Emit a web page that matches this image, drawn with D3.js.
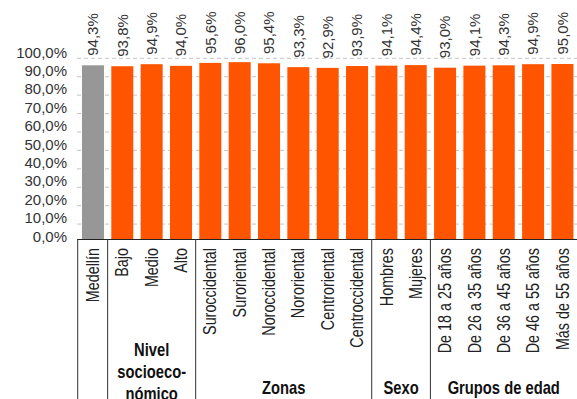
<!DOCTYPE html>
<html>
<head>
<meta charset="utf-8">
<script src="https://cdn.jsdelivr.net/npm/d3@7"></script>
<style>
  html, body { margin: 0; padding: 0; background: #fff; }
  svg { display: block; }
  .num { font-family: "Liberation Sans", Arial, sans-serif; fill: #333; font-size: 15px; }
  .cat { font-family: "Liberation Sans", Arial, sans-serif; fill: #222; font-size: 17.5px; }
  .grp { font-family: "Liberation Sans", Arial, sans-serif; fill: #111; font-size: 18px; font-weight: bold; }
</style>
</head>
<body>
<svg id="chart" width="577" height="399"></svg>
<script>
// Share of respondents, by segment
const categories = ["Medellín", "Bajo", "Medio", "Alto",
  "Suroccidental", "Suroriental", "Noroccidental", "Nororiental", "Centroriental", "Centroccidental",
  "Hombres", "Mujeres",
  "De 18 a 25 años", "De 26 a 35 años", "De 36 a 45 años", "De 46 a 55 años", "Más de 55 años"];
const values = [94.3, 93.8, 94.9, 94.0,
  95.6, 96.0, 95.4, 93.3, 92.9, 93.9,
  94.1, 94.4,
  93.0, 94.1, 94.3, 94.9, 95.0];
const yTicks = [0, 10, 20, 30, 40, 50, 60, 70, 80, 90, 100];

// Category groups along the bottom (index of first and last member)
const groupNames = [["Nivel", "socioeco-", "nómico"], ["Zonas"], ["Sexo"], ["Grupos de edad"]];
const groupStart = [1, 4, 10, 12];
const groupEnd = [3, 9, 11, 16];

const fmt = v => d3.format(".1f")(v).replace(".", ",") + "%";
const narrow = 0.82; // horizontal squeeze for the condensed label face

const svg = d3.select("#chart");
const x = d3.scaleBand().domain(categories).range([78.3, 577.1]).paddingInner(0.25).paddingOuter(0.125);
const y = d3.scaleLinear().domain([0, 100]).range([239, 54.8]);
const baseY = y(0);
const half = x.step() * x.paddingInner() / 2;

// dashed gridlines
svg.append("g").selectAll("line").data(yTicks.filter(d => d > 0)).join("line")
  .attr("x1", 77).attr("x2", 577)
  .attr("y1", d => y(d) + 3.5).attr("y2", d => y(d) + 3.5)
  .attr("stroke", "#c4c4c4").attr("stroke-width", 1).attr("stroke-dasharray", "4,3");

// y tick labels
svg.append("g").selectAll("text").data(yTicks).join("text")
  .attr("class", "num")
  .attr("x", 67).attr("y", d => y(d) - 2.5)
  .attr("dy", "0.35em").attr("text-anchor", "end")
  .text(d => fmt(d));

// bars
svg.append("g").selectAll("rect").data(categories).join("rect")
  .attr("x", d => x(d)).attr("width", x.bandwidth())
  .attr("y", (d, i) => y(values[i])).attr("height", (d, i) => baseY - y(values[i]))
  .attr("fill", (d, i) => i === 0 ? "#979797" : "#ff5400");

// value labels above bars
svg.append("g").selectAll("text").data(categories).join("text")
  .attr("class", "num")
  .attr("transform", (d, i) => `translate(${x(d) + x.bandwidth() / 2},${Math.max(54, y(values[i]) - 9.5)}) rotate(-90)`)
  .attr("dy", "0.35em").attr("text-anchor", "start")
  .text((d, i) => fmt(values[i]));

// baseline
svg.append("line").attr("x1", 77.5).attr("x2", 577).attr("y1", baseY + 0.5).attr("y2", baseY + 0.5)
  .attr("stroke", "#222").attr("stroke-width", 1);

// group separators
const sepX = [x.range()[0] - 0.6].concat(groupStart.map(s => x(categories[s]) - half));
svg.append("g").selectAll("line").data(sepX).join("line")
  .attr("x1", d => d).attr("x2", d => d).attr("y1", baseY).attr("y2", 399)
  .attr("stroke", "#333").attr("stroke-width", 1);

// category labels
svg.append("g").selectAll("text").data(categories).join("text")
  .attr("class", "cat")
  .attr("transform", d => `translate(${x(d) + x.bandwidth() / 2},248) rotate(-90) scale(${narrow},1)`)
  .attr("dy", "0.35em").attr("text-anchor", "end")
  .text(d => d);

// group labels
groupNames.forEach((lines, g) => {
  const cx = (x(categories[groupStart[g]]) - half + x(categories[groupEnd[g]]) + x.bandwidth() + half) / 2;
  const t = svg.append("text").attr("class", "grp").attr("text-anchor", "middle")
    .attr("transform", `translate(${cx},${lines.length > 1 ? 356 : 394}) scale(${narrow},1)`);
  lines.forEach((ln, k) => t.append("tspan").attr("x", 0).attr("dy", k === 0 ? 0 : 22).text(ln));
});
</script>
</body>
</html>
